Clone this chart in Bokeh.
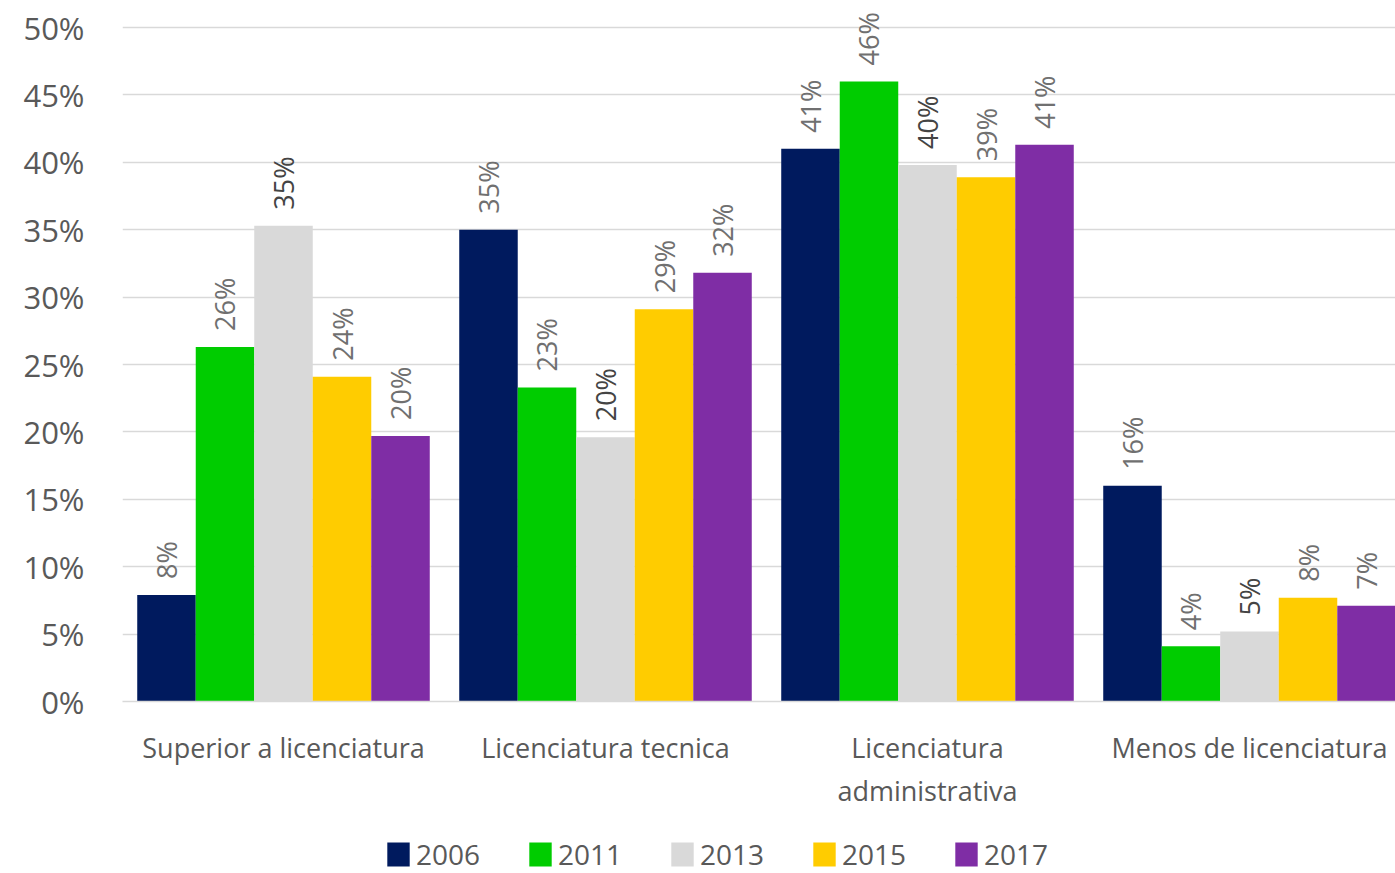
from bokeh.plotting import figure
from bokeh.models import ColumnDataSource, Range1d, FixedTicker, Legend, LegendItem
from bokeh.layouts import column
from bokeh.core.properties import value
from bokeh.transform import dodge
from bokeh.embed import file_html
from bokeh.resources import INLINE
import math

categories = ["Superior a licenciatura", "Licenciatura tecnica", "Licenciatura\nadministrativa", "Menos de licenciatura"]
years = ["2006", "2011", "2013", "2015", "2017"]
v2006 = [7.9, 35.0, 41.0, 16.0]
v2011 = [26.3, 23.3, 46.0, 4.1]
v2013 = [35.3, 19.6, 39.8, 5.2]
v2015 = [24.1, 29.1, 38.9, 7.7]
v2017 = [19.7, 31.8, 41.3, 7.1]
series = [v2006, v2011, v2013, v2015, v2017]
colors = ["#001A5E", "#00CC00", "#D9D9D9", "#FFCC00", "#7F2DA5"]
label_colors = ["#707070", "#707070", "#444444", "#707070", "#707070"]
yticks = [0, 5, 10, 15, 20, 25, 30, 35, 40, 45, 50]

FONT = "Open Sans"
TXT = "#595959"

p = figure(width=1395, height=820, output_backend="svg", toolbar_location=None,
           x_range=Range1d(0, 1273 / 322), y_range=Range1d(0, 696 / 13.48),
           min_border_left=122, min_border_right=0, min_border_top=5, min_border_bottom=119)
p.outline_line_color = None
p.background_fill_color = "white"
p.border_fill_color = "white"

bw = 0.1817
centers = [i + 0.5 for i in range(len(categories))]
for j, (yr, vals, col, lc) in enumerate(zip(years, series, colors, label_colors)):
    src = ColumnDataSource(dict(x=centers, v=vals, lab=[f"{round(v)}%" for v in vals]))
    off = (j - 2) * bw
    p.vbar(x=dodge("x", off), top="v", width=bw, source=src, fill_color=col, line_color=None)
    p.text(x=dodge("x", off), y="v", text="lab", source=src, angle=math.pi / 2,
           text_align="left", text_baseline="middle", x_offset=0, y_offset=-16,
           text_font=value(FONT), text_font_size="27px", text_color=lc)

p.xgrid.visible = False
p.ygrid.grid_line_color = "#D9D9D9"
p.ygrid.grid_line_width = 1.5
p.ygrid.ticker = FixedTicker(ticks=yticks)

p.yaxis.ticker = FixedTicker(ticks=yticks)
p.yaxis.major_label_overrides = {t: f"{t}%" for t in yticks}
p.yaxis.axis_line_color = None
p.yaxis.major_tick_line_color = None
p.yaxis.minor_tick_line_color = None
p.yaxis.major_label_standoff = 32
p.yaxis.major_label_text_font = FONT
p.yaxis.major_label_text_font_size = "31px"
p.yaxis.major_label_text_color = TXT

p.xaxis.ticker = FixedTicker(ticks=centers)
p.xaxis.major_label_overrides = {c: n for c, n in zip(centers, categories)}
p.xaxis.axis_line_color = "#D9D9D9"
p.xaxis.axis_line_width = 1.5
p.xaxis.major_tick_line_color = None
p.xaxis.minor_tick_line_color = None
p.xaxis.major_label_standoff = 21
p.xaxis.major_label_text_font = FONT
p.xaxis.major_label_text_font_size = "27px"
p.xaxis.major_label_text_color = TXT
p.xaxis.major_label_text_line_height = 1.17

# legend strip
lf = figure(width=1395, height=53, output_backend="svg", toolbar_location=None,
            x_range=Range1d(0, 1), y_range=Range1d(0, 1),
            min_border_left=0, min_border_right=0, min_border_top=0, min_border_bottom=0)
lf.axis.visible = False
lf.grid.visible = False
lf.outline_line_color = None
items = []
for yr, col in zip(years, colors):
    r = lf.vbar(x=[5], top=[0.5], width=0.1, fill_color=col, line_color=None)
    items.append(LegendItem(label=yr, renderers=[r]))
legend = Legend(items=items, orientation="horizontal", location=(262, 0),
                glyph_width=28, glyph_height=30, label_standoff=4, label_width=100,
                spacing=10, label_text_font=FONT, label_text_font_size="28px",
                label_text_color=TXT, border_line_color=None, background_fill_alpha=0,
                padding=0, margin=0)
lf.add_layout(legend, "center")

layout = column(p, lf, spacing=0)
open("out.html", "w").write(file_html(layout, INLINE))
